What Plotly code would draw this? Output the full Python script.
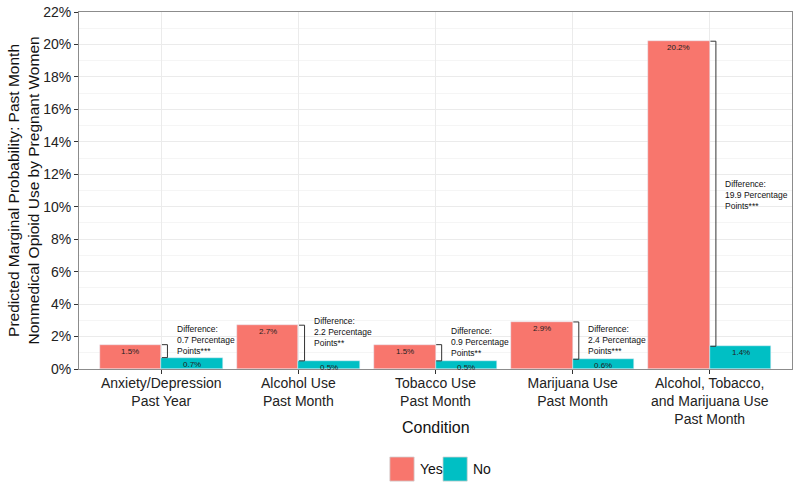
import plotly.graph_objects as go

# chart data
categories = ["Anxiety/Depression<br>Past Year", "Alcohol Use<br>Past Month",
              "Tobacco Use<br>Past Month", "Marijuana Use<br>Past Month",
              "Alcohol, Tobacco,<br>and Marijuana Use<br>Past Month"]
yes_vals = [1.5, 2.7, 1.5, 2.9, 20.2]
no_vals = [0.7, 0.5, 0.5, 0.6, 1.4]
diff_vals = [0.7, 2.2, 0.9, 2.4, 19.9]
diff_stars = ["***", "**", "**", "***", "***"]
y_ticks = list(range(0, 23, 2))

# vertical placement of the difference notes (middle line, in % units)
note_y = [1.78, 2.27, 1.66, 1.78, 10.75]

RED = "#F8766D"
TEAL = "#00BFC4"
FONT = "Liberation Sans, Arial, sans-serif"

xs = list(range(1, len(categories) + 1))
bar_w = 0.45

fig = go.Figure()
fig.add_trace(go.Bar(x=[x - bar_w / 2 for x in xs], y=yes_vals, width=bar_w,
                     marker_color=RED, name="Yes", showlegend=False))
fig.add_trace(go.Bar(x=[x + bar_w / 2 for x in xs], y=no_vals, width=bar_w,
                     marker_color=TEAL, name="No", showlegend=False))

annotations = []
shapes = []

for i, x in enumerate(xs):
    # value labels just under each bar top
    annotations.append(dict(x=x - bar_w / 2, y=yes_vals[i], text=f"{yes_vals[i]}%",
                            showarrow=False, yanchor="top",
                            font=dict(size=8, color="#222")))
    annotations.append(dict(x=x + bar_w / 2, y=no_vals[i], text=f"{no_vals[i]}%",
                            showarrow=False, yanchor="top",
                            font=dict(size=8, color="#222")))
    # bracket between the two bars
    bx = x + 0.045
    line = dict(color="#333", width=1)
    shapes.append(dict(type="line", x0=bx, x1=bx, y0=no_vals[i], y1=yes_vals[i], line=line))
    shapes.append(dict(type="line", x0=x + 0.005, x1=bx, y0=yes_vals[i], y1=yes_vals[i], line=line))
    shapes.append(dict(type="line", x0=x + 0.005, x1=bx, y0=no_vals[i], y1=no_vals[i], line=line))
    # difference note
    annotations.append(dict(x=x + 0.1, y=note_y[i], xanchor="left", yanchor="middle",
                            align="left", showarrow=False,
                            text=f"Difference:<br>{diff_vals[i]} Percentage<br>Points{diff_stars[i]}",
                            font=dict(size=8.5, color="#111")))

# axis titles
annotations.append(dict(xref="paper", yref="paper", x=0.5, y=-0.165, text="Condition",
                        showarrow=False, yanchor="middle", font=dict(size=16, color="#111")))
annotations.append(dict(xref="paper", yref="paper", x=-0.0785, y=0.5, textangle=-90,
                        text="Predicted Marginal Probability: Past Month<br>Nonmedical Opioid Use by Pregnant Women",
                        showarrow=False, xanchor="center", yanchor="middle",
                        font=dict(size=15.5, color="#111")))

# legend drawn by hand to get ggplot-sized keys
legend_items = [("Yes", RED, 0.436), ("No", TEAL, 0.5105)]
for label, color, lx in legend_items:
    shapes.append(dict(type="rect", xref="paper", yref="paper", x0=lx, x1=lx + 0.034,
                       y0=-0.314, y1=-0.2465, fillcolor=color,
                       line=dict(color="#D0D0D0", width=0.8)))
    annotations.append(dict(xref="paper", yref="paper", x=lx + 0.039, y=-0.28,
                            text=label, showarrow=False, xanchor="left", yanchor="middle",
                            font=dict(size=14, color="#111")))

fig.update_layout(
    width=800, height=489,
    margin=dict(l=79, r=8, t=12, b=120),
    paper_bgcolor="white", plot_bgcolor="white",
    font=dict(family=FONT, color="#111"),
    bargap=0, barmode="overlay",
    annotations=annotations, shapes=shapes,
    showlegend=False,
)

fig.update_xaxes(
    range=[0.4, 5.6], tickmode="array", tickvals=xs, ticktext=categories,
    tickfont=dict(size=14, color="#222"), ticklabelstandoff=-3,
    showgrid=True, gridcolor="#EBEBEB", gridwidth=1,
    ticks="outside", ticklen=4, tickcolor="#333",
    showline=True, linecolor="#8C8C8C", linewidth=1, mirror=True,
    zeroline=False, automargin=False,
)
fig.update_yaxes(
    range=[0, 22], tickmode="array", tickvals=y_ticks,
    ticktext=[f"{v}%" for v in y_ticks],
    tickfont=dict(size=14, color="#222"),
    showgrid=True, gridcolor="#EBEBEB", gridwidth=1,
    minor=dict(dtick=1, showgrid=True, gridcolor="#F5F5F5", gridwidth=0.6),
    ticks="outside", ticklen=4, tickcolor="#333",
    showline=True, linecolor="#8C8C8C", linewidth=1, mirror=True,
    zeroline=False, automargin=False,
)

# drop the browser's default 8px body margin so the figure sits at the page corner
fig.write_html("out.html", config={"displayModeBar": False},
               post_script="document.body.style.margin = '0';")
